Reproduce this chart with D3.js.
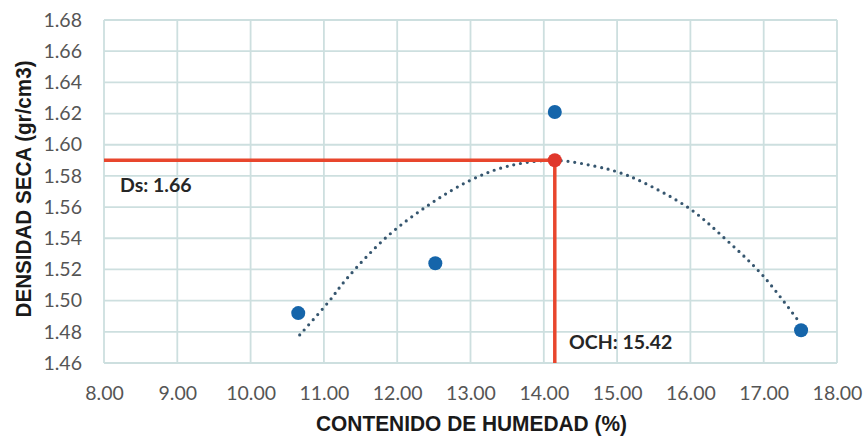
<!DOCTYPE html>
<html>
<head>
<meta charset="utf-8">
<script src="https://cdn.jsdelivr.net/npm/d3@7"></script>
<style>
  html, body { margin: 0; padding: 0; background: #ffffff; }
  svg { display: block; }
</style>
</head>
<body>
<svg id="chart" width="867" height="437"></svg>
<script>
// Compaction test: moisture content (%) vs dry density (gr/cm3)
const xTicks = [8, 9, 10, 11, 12, 13, 14, 15, 16, 17, 18];
const yTicks = [1.46, 1.48, 1.50, 1.52, 1.54, 1.56, 1.58, 1.60, 1.62, 1.64, 1.66, 1.68];

// Measured points
const humedad = [10.65, 12.52, 14.15, 17.51];
const densidad = [1.492, 1.524, 1.621, 1.481];

// Optimum point (max dry density / optimum moisture)
const optimoX = [14.15];
const optimoY = [1.590];

// Polynomial trend curve, sampled
const trendX = [10.67, 11.06, 11.31, 11.86, 12.45, 12.99, 13.49, 14.13, 14.72, 15.04, 15.35, 15.99, 16.49, 16.99, 17.49];
const trendY = [1.478, 1.499, 1.514, 1.541, 1.562, 1.577, 1.586, 1.590, 1.586, 1.582, 1.576, 1.559, 1.539, 1.516, 1.486];

// Annotation texts
const etiquetas = ["Ds: 1.66", "OCH: 15.42"];

const svg = d3.select("#chart");
const plot = { left: 104, right: 837, top: 20, bottom: 363 };

const x = d3.scaleLinear().domain([8, 18]).range([plot.left, plot.right]);
const y = d3.scaleLinear().domain([1.46, 1.68]).range([plot.bottom, plot.top]);

const gridColor = "#cddfdf";
const tickFont = "Lato, 'Liberation Sans', sans-serif";
const titleFont = "'Liberation Sans Narrow', 'Liberation Sans', Arial, sans-serif";

// Grid
const grid = svg.append("g");
grid.selectAll("line.v").data(xTicks).join("line")
  .attr("class", "v")
  .attr("x1", d => x(d)).attr("x2", d => x(d))
  .attr("y1", plot.top).attr("y2", plot.bottom)
  .attr("stroke", gridColor).attr("stroke-width", 1.8);
grid.selectAll("line.h").data(yTicks).join("line")
  .attr("class", "h")
  .attr("x1", plot.left).attr("x2", plot.right)
  .attr("y1", d => y(d)).attr("y2", d => y(d))
  .attr("stroke", gridColor).attr("stroke-width", 1.8);

// Axes (labels only; domain and ticks hidden)
const xAxis = d3.axisBottom(x).tickValues(xTicks).tickFormat(d3.format(".2f")).tickSize(0).tickPadding(23);
const gx = svg.append("g").attr("transform", `translate(0,${plot.bottom})`).call(xAxis);
gx.select(".domain").remove();
gx.selectAll("text").attr("font-family", tickFont).attr("font-size", 19.5).attr("fill", "#555555");

const yAxis = d3.axisLeft(y).tickValues(yTicks).tickFormat(d3.format(".2f")).tickSize(0).tickPadding(22);
const gy = svg.append("g").attr("transform", `translate(${plot.left},0)`).call(yAxis);
gy.select(".domain").remove();
gy.selectAll("text").attr("font-family", tickFont).attr("font-size", 19.5).attr("fill", "#555555");

// Axis titles
svg.append("text")
  .attr("x", 471.5).attr("y", 431)
  .attr("text-anchor", "middle")
  .attr("font-family", titleFont).attr("font-weight", "bold").attr("font-size", 22)
  .attr("fill", "#1a1a1a")
  .attr("textLength", 311).attr("lengthAdjust", "spacingAndGlyphs")
  .text("CONTENIDO DE HUMEDAD (%)");

svg.append("text")
  .attr("transform", "translate(31,189) rotate(-90)")
  .attr("text-anchor", "middle")
  .attr("font-family", titleFont).attr("font-weight", "bold").attr("font-size", 22)
  .attr("fill", "#1a1a1a")
  .attr("textLength", 257).attr("lengthAdjust", "spacingAndGlyphs")
  .text("DENSIDAD SECA (gr/cm3)");

// Trend curve (dotted)
const trend = trendX.map((d, i) => [d, trendY[i]]);
svg.append("path")
  .datum(trend)
  .attr("fill", "none")
  .attr("stroke", "#36566f")
  .attr("stroke-width", 3.2)
  .attr("stroke-linecap", "round")
  .attr("stroke-dasharray", "0 6.8")
  .attr("d", d3.line().x(d => x(d[0])).y(d => y(d[1])).curve(d3.curveCatmullRom));

// Optimum guide lines
const red = "#e8462d";
svg.append("line")
  .attr("x1", x(8)).attr("x2", x(optimoX[0]))
  .attr("y1", y(optimoY[0])).attr("y2", y(optimoY[0]))
  .attr("stroke", red).attr("stroke-width", 3.5);
svg.append("line")
  .attr("x1", x(optimoX[0])).attr("x2", x(optimoX[0]))
  .attr("y1", y(optimoY[0])).attr("y2", y(1.46))
  .attr("stroke", red).attr("stroke-width", 3.5);

// Measured points
svg.append("g").selectAll("circle").data(humedad).join("circle")
  .attr("cx", d => x(d))
  .attr("cy", (d, i) => y(densidad[i]))
  .attr("r", 7)
  .attr("fill", "#1565aa");

// Optimum point
svg.append("circle")
  .attr("cx", x(optimoX[0])).attr("cy", y(optimoY[0]))
  .attr("r", 7)
  .attr("fill", "#e0372c");

// Annotations
svg.append("text")
  .attr("x", 120).attr("y", 192)
  .attr("font-family", tickFont).attr("font-weight", "bold").attr("font-size", 19.5)
  .attr("fill", "#262626")
  .text(etiquetas[0]);
svg.append("text")
  .attr("x", 569).attr("y", 349)
  .attr("font-family", tickFont).attr("font-weight", "bold").attr("font-size", 19.5)
  .attr("fill", "#262626")
  .text(etiquetas[1]);
</script>
</body>
</html>
